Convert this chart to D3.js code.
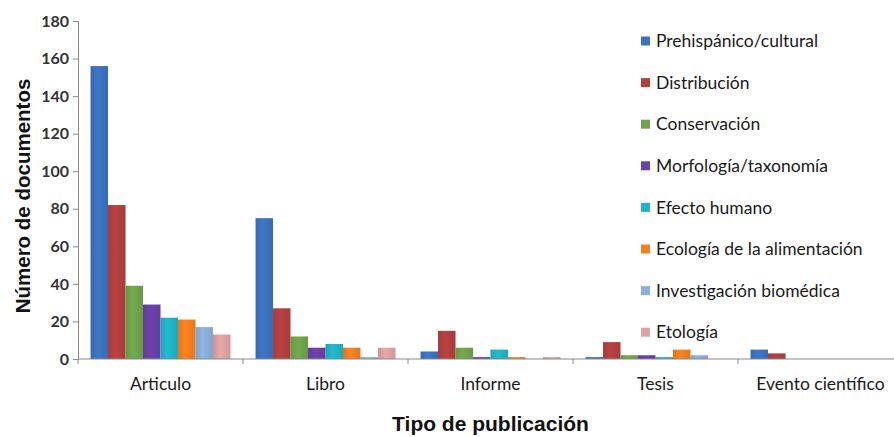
<!DOCTYPE html>
<html>
<head>
<meta charset="utf-8">
<script src="https://cdn.jsdelivr.net/npm/d3@7"></script>
<style>
  html, body { margin: 0; padding: 0; background: #fff; }
  svg { display: block; }
</style>
</head>
<body>
<svg id="chart" width="894" height="437"></svg>
<script>
// Publication types on the x axis
const categories = ["Articulo", "Libro", "Informe", "Tesis", "Evento científico"];

// Research topics (one bar per topic within each publication type)
const topics = [
  "Prehispánico/cultural",
  "Distribución",
  "Conservación",
  "Morfología/taxonomía",
  "Efecto humano",
  "Ecología de la alimentación",
  "Investigación biomédica",
  "Etología"
];

// Number of documents per topic, in the order of the categories
const prehispanico   = [156, 75, 4, 1, 5];
const distribucion   = [82, 27, 15, 9, 3];
const conservacion   = [39, 12, 6, 2, 0];
const morfologia     = [29, 6, 1, 2, 0];
const efectoHumano   = [22, 8, 5, 1, 0];
const ecologiaAlim   = [21, 6, 1, 5, 0];
const biomedica      = [17, 1, 0, 2, 0];
const etologia       = [13, 6, 1, 0, 0];

const yTicks = [0, 20, 40, 60, 80, 100, 120, 140, 160, 180];

const seriesValues = [prehispanico, distribucion, conservacion, morfologia,
                      efectoHumano, ecologiaAlim, biomedica, etologia];

const colors = ["#3b73c0", "#b3403f", "#70a44b", "#6b40a8",
                "#1fb4c8", "#f5801f", "#8cafdb", "#e0a2a2"];

const svg = d3.select("#chart");

const plotLeft = 78, plotRight = 903, plotTop = 21, plotBottom = 359;

const x0 = d3.scaleBand().domain(categories).range([plotLeft, plotRight])
  .paddingInner(0.152).paddingOuter(0.076);
const x1 = d3.scaleBand().domain(topics).range([0, x0.bandwidth()]).padding(0);
const y = d3.scaleLinear().domain([0, 180]).range([plotBottom, plotTop]);

// Soft horizontal shading on each bar
const defs = svg.append("defs");
colors.forEach((c, i) => {
  const g = defs.append("linearGradient").attr("id", "grad" + i)
    .attr("x1", "0%").attr("x2", "100%").attr("y1", "0%").attr("y2", "0%");
  const base = d3.color(c);
  g.append("stop").attr("offset", "0%").attr("stop-color", base.darker(0.25));
  g.append("stop").attr("offset", "40%").attr("stop-color", base.brighter(0.1));
  g.append("stop").attr("offset", "100%").attr("stop-color", base.darker(0.2));
});

// Bars
const groups = svg.append("g").selectAll("g")
  .data(categories)
  .join("g")
  .attr("transform", d => `translate(${x0(d)},0)`);

groups.selectAll("rect")
  .data((cat, ci) => topics.map((t, si) => ({ topic: t, si, value: seriesValues[si][ci] })))
  .join("rect")
  .attr("x", d => x1(d.topic))
  .attr("width", x1.bandwidth())
  .attr("y", d => y(d.value))
  .attr("height", d => y(0) - y(d.value))
  .attr("fill", d => `url(#grad${d.si})`);

// Y axis
const yAxis = d3.axisLeft(y).tickValues(yTicks).tickSize(5).tickPadding(4);
const gy = svg.append("g").attr("transform", `translate(${plotLeft},0)`).call(yAxis);
gy.select(".domain").attr("stroke", "#8a8a8a");
gy.selectAll(".tick line").attr("stroke", "#8a8a8a");
gy.selectAll(".tick text")
  .attr("fill", "#333")
  .style("font-family", "Lato, 'Open Sans', sans-serif")
  .style("font-weight", "700")
  .style("font-size", "16px");

// X axis: baseline with separator ticks between groups
svg.append("line")
  .attr("x1", plotLeft).attr("x2", plotRight)
  .attr("y1", y(0)).attr("y2", y(0))
  .attr("stroke", "#8a8a8a").attr("stroke-width", 1.2);

const step = x0.step();
const separators = categories.map((c, i) => plotLeft + step * i);
svg.append("g").selectAll("line")
  .data(separators.concat([plotRight]))
  .join("line")
  .attr("x1", d => d).attr("x2", d => d)
  .attr("y1", y(0)).attr("y2", y(0) + 5)
  .attr("stroke", "#8a8a8a");

svg.append("g").selectAll("text")
  .data(categories)
  .join("text")
  .attr("x", d => x0(d) + x0.bandwidth() / 2)
  .attr("y", 390)
  .attr("text-anchor", "middle")
  .attr("fill", "#1a1a1a")
  .style("font-family", "Lato, 'Open Sans', sans-serif")
  .style("font-size", "17.5px")
  .text(d => d);

// Axis titles
svg.append("text")
  .attr("x", (plotLeft + plotRight) / 2)
  .attr("y", 431)
  .attr("text-anchor", "middle")
  .attr("fill", "#111")
  .style("font-family", "'Liberation Sans Narrow', 'Liberation Sans', Arial, sans-serif")
  .style("font-weight", "700")
  .style("font-size", "21px")
  .text("Tipo de publicación");

svg.append("text")
  .attr("transform", `translate(30,196) rotate(-90)`)
  .attr("text-anchor", "middle")
  .attr("fill", "#111")
  .style("font-family", "'Liberation Sans', Arial, sans-serif")
  .style("font-weight", "700")
  .style("font-size", "20.5px")
  .text("Número de documentos");

// Legend
const legend = svg.append("g").selectAll("g")
  .data(topics)
  .join("g")
  .attr("transform", (d, i) => `translate(641,${41 + i * 41.6})`);

legend.append("rect")
  .attr("x", 0).attr("y", -4.5)
  .attr("width", 9).attr("height", 9)
  .attr("fill", (d, i) => colors[i]);

legend.append("text")
  .attr("x", 15).attr("y", 0)
  .attr("dy", "0.35em")
  .attr("fill", "#1a1a1a")
  .style("font-family", "Lato, 'Open Sans', sans-serif")
  .style("font-size", "17.5px")
  .text(d => d);
</script>
</body>
</html>
